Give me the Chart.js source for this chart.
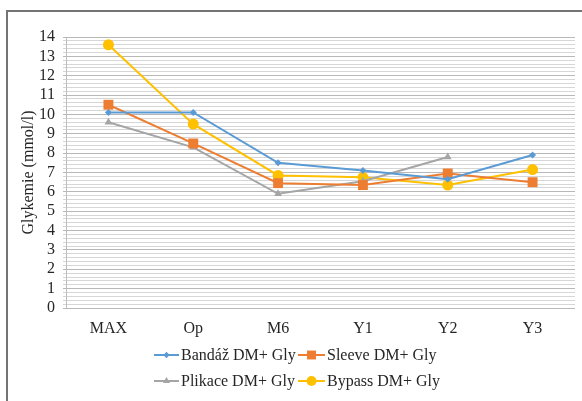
<!DOCTYPE html>
<html>
<head>
<meta charset="utf-8">
<script src="https://cdn.jsdelivr.net/npm/chart.js@4/dist/chart.umd.min.js"></script>
<style>
  html, body { margin: 0; padding: 0; background: #fff; overflow: hidden; }
  #wrap { position: relative; width: 582px; height: 401px; }
  #frame { position: absolute; left: 6px; top: 10px; width: 620px; height: 440px;
           border-top: 2px solid #747474; border-left: 2px solid #747474; }
  canvas { position: absolute; left: 0; top: 0; }
</style>
</head>
<body>
<div id="wrap">
  <div id="frame"></div>
  <canvas id="c" width="582" height="401"></canvas>
</div>
<script>
// Follow-up points
const categories = ['MAX', 'Op', 'M6', 'Y1', 'Y2', 'Y3'];

// Mean glycaemia (mmol/l) per surgery group
const bandaz  = [10.1, 10.1, 7.5, 7.1, 6.65, 7.9];
const sleeve  = [10.5, 8.5, 6.45, 6.35, 6.95, 6.5];
const plikace = [9.6, 8.3, 5.9, 6.55, 7.8, null];
const bypass  = [13.6, 9.5, 6.85, 6.75, 6.35, 7.15];

const seriesNames = ['Bandáž DM+ Gly', 'Sleeve DM+ Gly', 'Plikace DM+ Gly', 'Bypass DM+ Gly'];

// Y axis: 0–14, major unit 1, minor unit 0.2
const yMin = 0, yMax = 14, yMinorStep = 0.2;

const SERIF = "'Liberation Serif', 'Times New Roman', serif";
const isMajor = v => Math.abs(v - Math.round(v)) < 1e-6;

const styles = [
  { color: '#5B9BD5', pointStyle: 'rectRot',  radius: 3.5 },
  { color: '#ED7D31', pointStyle: 'rect',     radius: 7 },
  { color: '#A5A5A5', pointStyle: 'triangle', radius: 4.5 },
  { color: '#FFC000', pointStyle: 'circle',   radius: 5.5 }
];

const datasets = [bandaz, sleeve, plikace, bypass].map((values, i) => ({
  label: seriesNames[i],
  data: values,
  borderColor: styles[i].color,
  backgroundColor: styles[i].color,
  pointBackgroundColor: styles[i].color,
  pointBorderColor: styles[i].color,
  pointStyle: styles[i].pointStyle,
  pointRadius: styles[i].radius,
  pointHoverRadius: styles[i].radius,
  pointBorderWidth: 0,
  borderWidth: 2,
  tension: 0,
  spanGaps: false
}));

// Two-column legend with a line + marker sample for each series
const pairedLegend = {
  id: 'pairedLegend',
  afterDraw(chart) {
    const ctx = chart.ctx;
    const cols = [{ x0: 154, x1: 179 }, { x0: 298, x1: 325 }];
    const rows = [355, 381];
    ctx.save();
    ctx.font = '16px ' + SERIF;
    ctx.textBaseline = 'middle';
    ctx.textAlign = 'left';
    chart.data.datasets.forEach((ds, i) => {
      const col = cols[i % 2];
      const y = rows[Math.floor(i / 2)];
      ctx.strokeStyle = ds.borderColor;
      ctx.lineWidth = 2;
      ctx.beginPath();
      ctx.moveTo(col.x0, y);
      ctx.lineTo(col.x1, y);
      ctx.stroke();
      ctx.fillStyle = ds.backgroundColor;
      ctx.strokeStyle = ds.borderColor;
      Chart.helpers.drawPoint(ctx, { pointStyle: ds.pointStyle, radius: ds.pointRadius * 0.9, rotation: 0, borderWidth: 0 },
        (col.x0 + col.x1) / 2, y);
      ctx.fillStyle = '#262626';
      ctx.fillText(ds.label, col.x1 + 2, y + 1);
    });
    ctx.restore();
  }
};

new Chart(document.getElementById('c'), {
  type: 'line',
  data: { labels: categories, datasets },
  plugins: [pairedLegend],
  options: {
    responsive: false,
    animation: false,
    events: [],
    layout: { padding: { top: 37, right: 6, left: 0, bottom: 0 } },
    plugins: {
      legend: { display: false },
      tooltip: { enabled: false }
    },
    scales: {
      x: {
        type: 'category',
        offset: true,
        grid: { display: false, drawTicks: false },
        border: { display: false },
        ticks: {
          padding: 11,
          color: '#262626',
          font: { family: SERIF, size: 16 },
          maxRotation: 0,
          autoSkip: false
        },
        afterFit(scale) { scale.height = 93; }
      },
      y: {
        min: yMin,
        max: yMax,
        grid: {
          drawTicks: true,
          tickLength: 3,
          color: ctx => isMajor(ctx.tick.value) ? '#b8b8b8' : '#d6d6d6',
          lineWidth: 1
        },
        border: { display: true, color: '#bdbdbd', width: 1 },
        ticks: {
          stepSize: yMinorStep,
          autoSkip: false,
          padding: 8,
          color: '#262626',
          font: { family: SERIF, size: 16 },
          callback: v => isMajor(v) ? String(Math.round(v)) : ''
        },
        title: {
          display: true,
          text: 'Glykemie (mmol/l)',
          color: '#262626',
          font: { family: SERIF, size: 16 },
          padding: { top: 19, bottom: 0 }
        },
        afterFit(scale) { scale.width = 66; }
      }
    }
  }
});
</script>
</body>
</html>
